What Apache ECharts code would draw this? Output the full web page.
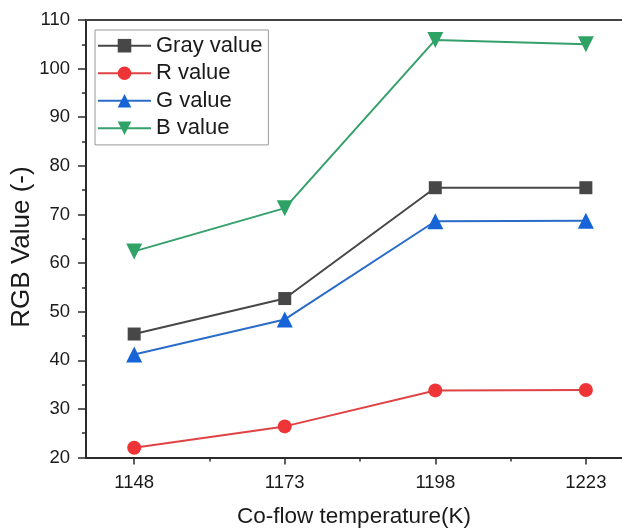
<!DOCTYPE html>
<html>
<head>
<meta charset="utf-8">
<script src="https://cdn.jsdelivr.net/npm/echarts@6/dist/echarts.min.js"></script>
<style>
  html, body { margin: 0; padding: 0; background: #fff; }
  #chart { width: 622px; height: 532px; }
</style>
</head>
<body>
<div id="chart"></div>
<script>
// Co-flow temperature (K) and the mean colour channel values measured at each
const temperatures = [1148, 1173, 1198, 1223];
const grayValues = [45.4, 52.7, 75.5, 75.5];
const rValues = [22.0, 26.4, 33.8, 33.9];
const gValues = [41.2, 48.4, 68.6, 68.7];
const bValues = [62.4, 71.3, 105.9, 105.0];

const xMajorTicks = [1148, 1173, 1198, 1223];
const xMinorTicks = [1160.5, 1185.5, 1210.5];

const seriesNames = ['Gray value', 'R value', 'G value', 'B value'];
const yAxisTitle = 'RGB Value (-)';

const font = 'Liberation Sans, Arial, sans-serif';
const axisColor = '#2b2b2b';

function pairs(values) {
  return temperatures.map((t, i) => [t, values[i]]);
}

const chart = echarts.init(document.getElementById('chart'), null, { renderer: 'canvas' });

function lineSeries(name, values, color, markerColor, symbol, size, rotate) {
  return {
    name: name,
    type: 'line',
    xAxisIndex: 0,
    yAxisIndex: 0,
    data: pairs(values),
    symbol: symbol,
    symbolSize: size,
    symbolRotate: rotate || 0,
    showAllSymbol: true,
    lineStyle: { color: color, width: 2 },
    itemStyle: { color: markerColor, borderWidth: 0 },
    emphasis: { disabled: true },
    z: 3
  };
}

chart.setOption({
  animation: false,
  backgroundColor: '#fff',
  textStyle: { fontFamily: font },
  grid: { left: 86, right: 0, top: 20, bottom: 74.5, containLabel: false, outerBoundsMode: 'none' },
  // vertical axis title, placed beside the tick labels
  graphic: [{
    type: 'text',
    x: 22,
    y: 247,
    rotation: Math.PI / 2,
    style: {
      text: yAxisTitle,
      fontSize: 26,
      fontFamily: font,
      fill: '#1a1a1a',
      align: 'center',
      verticalAlign: 'middle'
    }
  }],
  legend: {
    left: 95,
    top: 30,
    orient: 'vertical',
    data: seriesNames,
    itemWidth: 53,
    itemHeight: 17,
    itemGap: 3.5,
    padding: [3.7, 6, 4.7, 2],
    borderColor: '#999',
    borderWidth: 1,
    backgroundColor: '#fff',
    textStyle: { fontSize: 22, color: '#1a1a1a', fontFamily: font, lineHeight: 24 }
  },
  xAxis: [
    {
      type: 'value',
      min: 1140,
      max: 1229,
      position: 'bottom',
      name: 'Co-flow temperature(K)',
      nameLocation: 'middle',
      nameGap: 48,
      nameTextStyle: { fontSize: 22.5, color: '#1a1a1a', fontFamily: font },
      axisLine: { show: true, lineStyle: { color: axisColor, width: 2 } },
      axisTick: { show: true, customValues: xMajorTicks, length: 7, lineStyle: { color: axisColor, width: 1.5 } },
      axisLabel: {
        customValues: xMajorTicks,
        formatter: (v) => String(v),
        fontSize: 18.5,
        color: '#1a1a1a',
        margin: 16,
        fontFamily: font
      },
      splitLine: { show: false }
    },
    {
      type: 'value',
      min: 1140,
      max: 1229,
      position: 'bottom',
      axisLine: { show: false },
      axisTick: { show: true, customValues: xMinorTicks, length: 4, lineStyle: { color: axisColor, width: 1.5 } },
      axisLabel: { show: false },
      splitLine: { show: false }
    },
    {
      type: 'value',
      min: 1140,
      max: 1229,
      position: 'top',
      axisLine: { show: true, lineStyle: { color: '#444', width: 2 } },
      axisTick: { show: false },
      axisLabel: { show: false },
      splitLine: { show: false }
    }
  ],
  yAxis: {
    type: 'value',
    min: 20,
    max: 110,
    interval: 10,
    axisLine: { show: true, lineStyle: { color: axisColor, width: 2 } },
    axisTick: { show: true, length: 8, lineStyle: { color: axisColor, width: 1.5 } },
    minorTick: { show: true, splitNumber: 2, length: 4, lineStyle: { color: axisColor, width: 1.5 } },
    axisLabel: { fontSize: 18.5, color: '#1a1a1a', margin: 16, fontFamily: font },
    splitLine: { show: false }
  },
  series: [
    lineSeries(seriesNames[0], grayValues, '#474747', '#474747', 'rect', 13),
    lineSeries(seriesNames[1], rValues, '#e04345', '#ee3436', 'circle', 14),
    lineSeries(seriesNames[2], gValues, '#2a6cc8', '#1763d8', 'triangle', 16),
    lineSeries(seriesNames[3], bValues, '#35a06c', '#2fa366', 'triangle', 16, 180)
  ]
});
</script>
</body>
</html>
